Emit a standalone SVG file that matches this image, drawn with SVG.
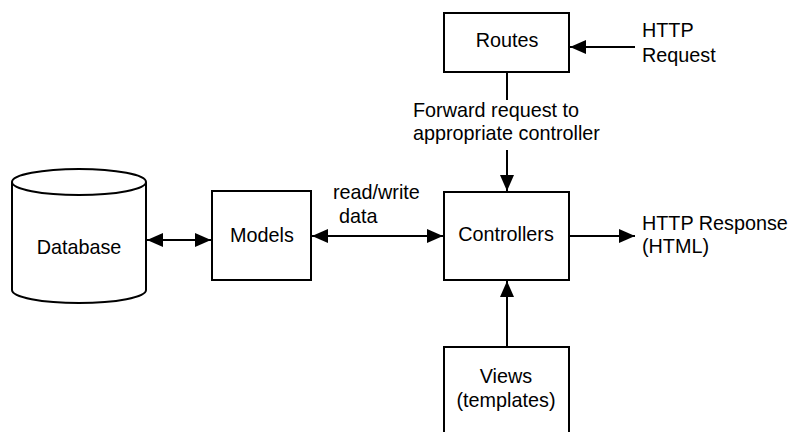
<svg xmlns="http://www.w3.org/2000/svg" width="788" height="432" viewBox="0 0 788 432">
<style>
.box{fill:#fff;stroke:#000;stroke-width:2}
.ln{fill:none;stroke:#000;stroke-width:2}
text{font-family:"Liberation Sans",Arial,sans-serif;font-size:19.8px;fill:#000}
.c{text-anchor:middle}
</style>
<defs>
<marker id="arr" viewBox="0 0 16 14" refX="16" refY="7" markerWidth="16" markerHeight="14" markerUnits="userSpaceOnUse" orient="auto-start-reverse">
<path d="M0,0 L16,7 L0,14 Z" fill="#000"/>
</marker>
</defs>
<rect width="788" height="432" fill="#fff"/>
<g id="connectors">
<line class="ln" x1="635" y1="47" x2="570" y2="47" marker-end="url(#arr)"/>
<line class="ln" x1="507" y1="72" x2="507" y2="100"/>
<line class="ln" x1="507" y1="150" x2="507" y2="191" marker-end="url(#arr)"/>
<line class="ln" x1="312" y1="236" x2="443" y2="236" marker-start="url(#arr)" marker-end="url(#arr)"/>
<line class="ln" x1="147" y1="240" x2="211" y2="240" marker-start="url(#arr)" marker-end="url(#arr)"/>
<line class="ln" x1="569" y1="236" x2="635" y2="236" marker-end="url(#arr)"/>
<line class="ln" x1="507" y1="347" x2="507" y2="281" marker-end="url(#arr)"/>
</g>
<g id="database">
<path class="box" d="M12,182 L12,290 A67,13 0 0 0 146,290 L146,182 A67,13 0 0 0 12,182 Z"/>
<path class="ln" d="M12,182 A67,13 0 0 0 146,182"/>
<text class="c" x="79" y="254">Database</text>
</g>
<g id="models">
<rect class="box" x="212" y="191" width="99" height="89"/>
<text class="c" x="262" y="242">Models</text>
</g>
<g id="routes">
<rect class="box" x="444" y="13" width="125" height="59"/>
<text class="c" x="507" y="47">Routes</text>
</g>
<g id="controllers">
<rect class="box" x="444" y="192" width="125" height="88"/>
<text class="c" x="506" y="241">Controllers</text>
</g>
<g id="views">
<rect class="box" x="444" y="347" width="125" height="92"/>
<text class="c" x="506" y="383">Views</text>
<text class="c" x="506" y="407">(templates)</text>
</g>
<g id="labels">
<text x="642" y="37">HTTP</text>
<text x="642" y="62">Request</text>
<text x="413" y="117">Forward request to</text>
<text x="413" y="140">appropriate controller</text>
<text x="333" y="199">read/write</text>
<text x="339" y="223">data</text>
<text x="642" y="230">HTTP Response</text>
<text x="642" y="253">(HTML)</text>
</g>
</svg>
